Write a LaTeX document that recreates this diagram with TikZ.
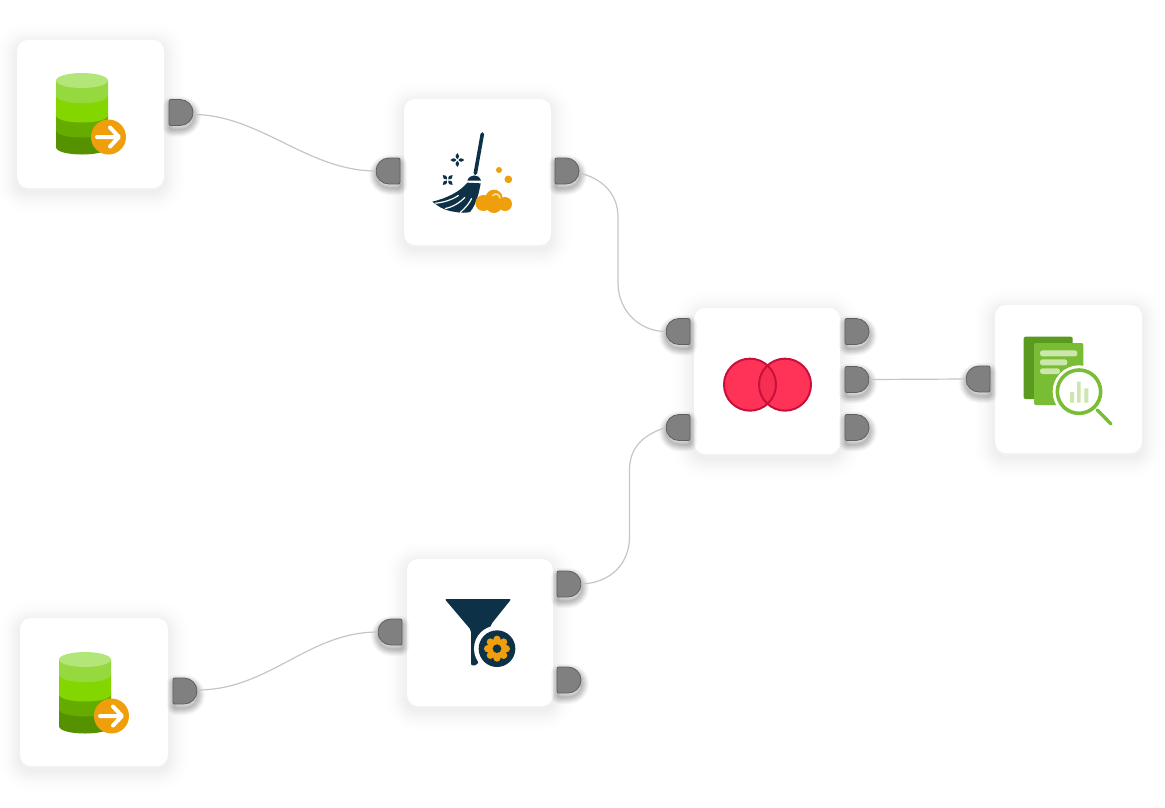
\documentclass[tikz,border=0pt]{standalone}
\definecolor{navy}{HTML}{0D3247}
\definecolor{amber}{HTML}{F09F0C}
\definecolor{portfill}{HTML}{808080}
\definecolor{portedge}{HTML}{5F5F5F}
\definecolor{wirec}{HTML}{C6C6C6}
\definecolor{vennfill}{HTML}{FF3358}
\definecolor{vennmid}{HTML}{F62E52}
\definecolor{vennedge}{HTML}{C8103A}
\definecolor{pageback}{HTML}{5A9A1F}
\definecolor{pagefront}{HTML}{78BD33}
\definecolor{pagelight}{HTML}{CBE7AC}
\tikzset{
  x=1pt,y=-1pt,
  cardbox/.style={draw=none,fill=white,rectangle,rounded corners=11pt,inner sep=0pt},
  portbox/.style={draw=none,rectangle,inner sep=0pt,minimum width=24pt,minimum height=26pt},
  portface/.style={fill=portfill,draw=portedge,line width=.8pt},
  wire/.style={draw=wirec,line width=1.2pt},
}
\newcommand\dshape{(-12,0) -- (-12,-11) .. controls (-12,-12.3) and (-11.3,-13) .. (-10,-13) -- (-1,-13) .. controls (6.2,-13) and (12,-7.2) .. (12,0) .. controls (12,7.2) and (6.2,13) .. (-1,13) -- (-10,13) .. controls (-11.3,13) and (-12,12.3) .. (-12,11) -- cycle}
\newcommand\cardnode[5]{%
  \foreach \w in {2,4,6,8,10,12,14,16,18,20,22,25,28,32,37,42}{
    \draw[black,opacity=.0038,line width=\w pt,line join=round,rounded corners=11pt]
      (#2,#3+4) rectangle (#4,#5+4);}
  \node[cardbox,minimum width=#4pt-#2pt,minimum height=#5pt-#3pt] (#1) at ({(#2+#4)/2},{(#3+#5)/2}) {};
}
\newcommand\portnode[4]{% name, left x, top y, direction (1 out, -1 in)
  \begin{scope}[shift={(#2+12,#3+13)}]
    \foreach \w in {1,2.5,4,5.5,7,8.5,10,12,14}{
      \begin{scope}[shift={(0.5*#4+0.5,4)},xscale=#4]
      \draw[black,opacity=.03,line width=\w pt,line join=round] \dshape;
      \end{scope}}
    \begin{scope}[xscale=#4]
    \draw[portface] \dshape;
    \end{scope}
  \end{scope}
  \node[portbox] (#1) at (#2+12,#3+13) {};
}
\newcommand\dbicon[2]{% offset x,y
  \begin{scope}[shift={(#1,#2)}]
    \fill[fill={rgb,255:red,86;green,146;blue,0}] (56,130) -- (56,147) .. controls (56,157) and (108,157) .. (108,147) -- (108,130) -- cycle;
    \fill[fill={rgb,255:red,102;green,171;blue,0}] (56,114) -- (56,130) .. controls (56,140) and (108,140) .. (108,130) -- (108,114) -- cycle;
    \fill[fill={rgb,255:red,132;green,214;blue,0}] (56,95) -- (56,115) .. controls (56,125) and (108,125) .. (108,115) -- (108,95) -- cycle;
    \fill[fill={rgb,255:red,150;green,217;blue,63}] (56,80) -- (56,95) .. controls (56,106) and (108,106) .. (108,95) -- (108,80) -- cycle;
    \fill[fill={rgb,255:red,179;green,230;blue,120}] (82,80.5) ellipse [x radius=26,y radius=7.5];
    \fill[amber] (108.5,137) circle [radius=17.5];
    \draw[white,line width=4pt,line cap=round,line join=round] (97,137) -- (118,137) (110,127.5) -- (119,137) -- (110,146.5);
  \end{scope}
}
\begin{document}
\begin{tikzpicture}
\useasboundingbox (0,0) rectangle (1165,807);
\fill[white] (0,0) rectangle (1165,807);

\cardnode{src}{17}{40}{164}{188}
\cardnode{clean}{404}{99}{551}{245}
\cardnode{join}{694}{308}{840}{454}
\cardnode{report}{995}{305}{1142}{453}
\cardnode{filter}{407}{559}{553}{706}
\cardnode{srcb}{20}{618}{168}{766}

\portnode{srcout}{169}{99.5}{1}
\portnode{cleanin}{376}{158}{-1}
\portnode{cleanout}{555}{158}{1}
\portnode{joinina}{666}{318.5}{-1}
\portnode{joininb}{666}{414.5}{-1}
\portnode{joinouta}{845}{318.5}{1}
\portnode{joinoutb}{845}{366.5}{1}
\portnode{joinoutc}{845}{414.5}{1}
\portnode{reportin}{966}{366}{-1}
\portnode{filterin}{378}{619}{-1}
\portnode{filterouta}{557}{571}{1}
\portnode{filteroutb}{557}{667}{1}
\portnode{srcbout}{173}{678}{1}

\coordinate (bendaa) at (618,217);
\coordinate (bendab) at (618,283);
\coordinate (bendba) at (629.5,537);
\coordinate (bendbb) at (629.5,470);

\draw[wire] (srcout.east) ++(0,2) .. controls +(66,0) and +(-68,0) .. (cleanin.west);
\draw[wire] (cleanout.east) ++(0,2) .. controls +(22,5) and +(0,-24) .. (bendaa) -- (bendab) .. controls +(0,27) and +(-27,0) .. (joinina.west);
\draw[wire] (filterouta.east) .. controls +(30,-1) and +(0,26) .. (bendba) -- (bendbb) .. controls +(0,-25) and +(-19,6) .. (joininb.west);
\draw[wire] (srcbout.east) ++(0,-1) .. controls +(72,0) and +(-70,0) .. (filterin.west);
\draw[wire] (joinoutb.east) -- (reportin.west);

\dbicon{0}{0}
\dbicon{3}{579}

% broom
\begin{scope}[shift={(370,90)},scale=1/3]
  \draw[navy,line width=3.6pt,line cap=round] (337,132) -- (316,250);
  \fill[navy] (292,272) .. controls (297,252) and (328,250) .. (333,272) -- cycle;
  \fill[navy] (292,278) -- (332,280) .. controls (327,310) and (318,345) .. (300,366)
     .. controls (290,369) and (270,369) .. (258,366) .. controls (235,364) and (215,356) .. (200,345)
     -- (187,335) .. controls (230,325) and (270,305) .. (292,278) -- cycle;
  \draw[white,line width=1.2pt] (266,316) .. controls (245,330) and (225,336) .. (196,340);
  \draw[white,line width=1.2pt] (285,322) .. controls (270,338) and (250,350) .. (225,356);
  \draw[white,line width=1.2pt] (305,325) .. controls (298,340) and (288,352) .. (270,368);
  \foreach \a in {0,90,180,270}{
    \fill[navy,rotate around={\a:(262,210)}] (262,207) .. controls (270,201) and (268,194) .. (262,189) .. controls (256,194) and (254,201) .. (262,207) -- cycle;
    \fill[navy,rotate around={\a+45:(233,270)}] (233,267) .. controls (241,261) and (239,254) .. (233,249) .. controls (227,254) and (225,261) .. (233,267) -- cycle;
  }
  \fill[amber] (340,339) circle [radius=24] (372,325) circle [radius=26] (372,345) circle [radius=24] (405,342) circle [radius=21];
  \draw[white!70!amber,line width=1.4pt,line cap=round] (368,317) .. controls (376,307) and (388,312) .. (390,324);
  \fill[amber] (387,240) circle [radius=9] (415,268) circle [radius=11.5];
\end{scope}

% venn
\begin{scope}[shift={(660,300)},scale=1/3]
  \fill[vennfill] (270,254) circle [radius=78] (375,254) circle [radius=78];
  \begin{scope}
    \clip (270,254) circle [radius=78];
    \fill[vennmid] (375,254) circle [radius=78];
  \end{scope}
  \draw[vennedge,line width=2pt] (270,254) circle [radius=78] (375,254) circle [radius=78];
\end{scope}

% report
\begin{scope}[shift={(960,300)},scale=1/3]
  \fill[pageback,rounded corners=2pt] (191,110) rectangle (338,297);
  \fill[pagefront,rounded corners=2pt] (222,129) rectangle (370,315);
  \fill[pagelight,rounded corners=2.5pt] (240,151) rectangle (352,169) (240,178) rectangle (322,196) (240,205) rectangle (300,222);
  \fill[white] (357,275) circle [radius=79];
  \draw[pagefront,line width=3.6pt] (357,275) circle [radius=65];
  \fill[pagelight] (330,276) rectangle (342,308) (351,245) rectangle (362,308) (373,265) rectangle (385,308);
  \draw[pagefront,line width=3.4pt,line cap=round] (412,330) -- (453,372);
\end{scope}

% funnel
\begin{scope}[shift={(370,550)},scale=1/3]
  \fill[navy,rounded corners=2pt] (224,147) -- (424,147) -- (364,222) -- (322,345) -- (303,347) -- (303,240) -- cycle;
  \fill[white] (381,296) circle [radius=69];
  \fill[navy] (381,296) circle [radius=55];
  \foreach \a in {0,45,...,315}{
    \fill[amber] (381,296) ++(\a:28) circle [radius=11];
  }
  \fill[amber] (381,296) circle [radius=29];
  \fill[navy] (381,296) circle [radius=13];
\end{scope}
\end{tikzpicture}
\end{document}
